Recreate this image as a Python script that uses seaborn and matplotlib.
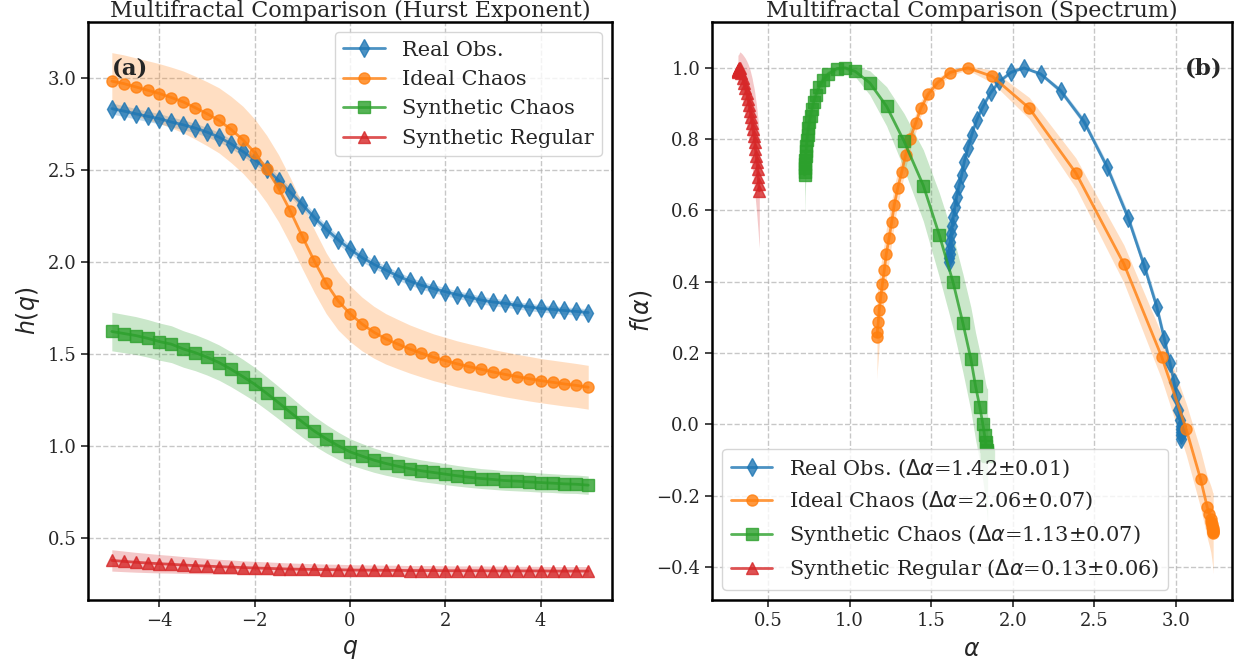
import numpy as np
import pandas as pd
import matplotlib
matplotlib.use("Agg")
import matplotlib.pyplot as plt
import seaborn as sns

# ---------------- data ----------------
q = [-5.0, -4.75, -4.5, -4.25, -4.0, -3.75, -3.5, -3.25, -3.0, -2.75, -2.5, -2.25, -2.0,
     -1.75, -1.5, -1.25, -1.0, -0.75, -0.5, -0.25, 0.0, 0.25, 0.5, 0.75, 1.0, 1.25, 1.5,
     1.75, 2.0, 2.25, 2.5, 2.75, 3.0, 3.25, 3.5, 3.75, 4.0, 4.25, 4.5, 4.75, 5.0]

labels = ["Real Obs.", "Ideal Chaos", "Synthetic Chaos", "Synthetic Regular"]
delta_alpha = ["1.42±0.01", "2.06±0.07", "1.13±0.07", "0.13±0.06"]

h_real = [2.833, 2.820, 2.805, 2.791, 2.778, 2.760, 2.745, 2.727, 2.705, 2.678, 2.642, 2.600,
          2.555, 2.505, 2.442, 2.378, 2.311, 2.242, 2.178, 2.120, 2.069, 2.024, 1.987, 1.956,
          1.924, 1.896, 1.873, 1.855, 1.838, 1.822, 1.809, 1.793, 1.782, 1.775, 1.764, 1.756,
          1.747, 1.742, 1.736, 1.731, 1.725]
h_ideal = [2.982, 2.969, 2.951, 2.933, 2.915, 2.893, 2.869, 2.838, 2.805, 2.769, 2.720, 2.664,
           2.593, 2.505, 2.400, 2.275, 2.138, 2.005, 1.884, 1.788, 1.719, 1.663, 1.618, 1.582,
           1.554, 1.527, 1.504, 1.482, 1.464, 1.446, 1.431, 1.417, 1.402, 1.389, 1.377, 1.366,
           1.355, 1.346, 1.337, 1.329, 1.319]
h_synchaos = [1.622, 1.611, 1.600, 1.585, 1.567, 1.553, 1.527, 1.507, 1.482, 1.453, 1.417, 1.377,
              1.335, 1.286, 1.235, 1.182, 1.130, 1.081, 1.039, 1.001, 0.968, 0.945, 0.923, 0.905,
              0.890, 0.877, 0.865, 0.856, 0.847, 0.838, 0.830, 0.823, 0.818, 0.812, 0.809, 0.805,
              0.801, 0.798, 0.794, 0.792, 0.787]
h_synreg = [0.378, 0.373, 0.368, 0.364, 0.360, 0.357, 0.353, 0.350, 0.347, 0.344, 0.342, 0.339,
            0.337, 0.335, 0.333, 0.331, 0.330, 0.329, 0.328, 0.327, 0.326, 0.325, 0.325, 0.324,
            0.324, 0.323, 0.323, 0.323, 0.322, 0.322, 0.322, 0.322, 0.321, 0.321, 0.321, 0.321,
            0.321, 0.320, 0.320, 0.320, 0.320]

h_real_sd = [0.030, 0.029, 0.029, 0.028, 0.028, 0.027, 0.027, 0.026, 0.026, 0.026, 0.025, 0.025,
             0.025, 0.025, 0.025, 0.025, 0.025, 0.025, 0.024, 0.024, 0.024, 0.024, 0.023, 0.023,
             0.023, 0.022, 0.022, 0.022, 0.022, 0.021, 0.021, 0.021, 0.021, 0.021, 0.020, 0.020,
             0.020, 0.020, 0.020, 0.020, 0.020]
h_ideal_sd = [0.155, 0.156, 0.158, 0.160, 0.162, 0.165, 0.168, 0.171, 0.174, 0.177, 0.180, 0.182,
              0.183, 0.183, 0.182, 0.180, 0.176, 0.171, 0.165, 0.158, 0.152, 0.146, 0.141, 0.137,
              0.134, 0.131, 0.129, 0.127, 0.126, 0.125, 0.124, 0.123, 0.122, 0.122, 0.121, 0.121,
              0.120, 0.120, 0.120, 0.119, 0.119]
h_synchaos_sd = [0.105, 0.104, 0.103, 0.102, 0.101, 0.100, 0.099, 0.098, 0.097, 0.096, 0.095, 0.094,
                 0.092, 0.090, 0.088, 0.086, 0.083, 0.080, 0.077, 0.074, 0.071, 0.068, 0.066, 0.064,
                 0.062, 0.060, 0.059, 0.058, 0.057, 0.056, 0.055, 0.054, 0.054, 0.053, 0.053, 0.052,
                 0.052, 0.051, 0.051, 0.050, 0.050]
h_synreg_sd = [0.058, 0.056, 0.054, 0.052, 0.050, 0.048, 0.046, 0.044, 0.042, 0.040, 0.039, 0.037,
               0.036, 0.035, 0.034, 0.033, 0.032, 0.031, 0.030, 0.030, 0.029, 0.029, 0.028, 0.028,
               0.028, 0.027, 0.027, 0.027, 0.027, 0.026, 0.026, 0.026, 0.026, 0.026, 0.025, 0.025,
               0.025, 0.025, 0.025, 0.025, 0.025]

a_real = [3.033, 3.033, 3.032, 3.032, 3.031, 3.030, 3.028, 3.025, 3.014, 3.000, 2.988, 2.963,
          2.929, 2.882, 2.806, 2.708, 2.579, 2.438, 2.295, 2.171, 2.069, 1.990, 1.918, 1.865,
          1.816, 1.779, 1.748, 1.724, 1.703, 1.687, 1.670, 1.656, 1.646, 1.636, 1.628, 1.622,
          1.618, 1.615, 1.613, 1.611, 1.610]
f_real = [-0.042, -0.038, -0.033, -0.028, -0.022, -0.014, -0.005, 0.013, 0.041, 0.078, 0.120, 0.171,
          0.239, 0.330, 0.444, 0.578, 0.721, 0.848, 0.935, 0.983, 1.000, 0.988, 0.962, 0.931,
          0.891, 0.854, 0.812, 0.775, 0.737, 0.700, 0.669, 0.639, 0.611, 0.583, 0.557, 0.533,
          0.511, 0.492, 0.477, 0.466, 0.456]
a_ideal = [3.228, 3.228, 3.227, 3.227, 3.226, 3.225, 3.224, 3.222, 3.220, 3.217, 3.213, 3.205,
           3.192, 3.151, 3.063, 2.912, 2.681, 2.387, 2.101, 1.875, 1.724, 1.615, 1.540, 1.482,
           1.437, 1.405, 1.370, 1.344, 1.320, 1.295, 1.274, 1.258, 1.242, 1.225, 1.213, 1.201,
           1.191, 1.182, 1.176, 1.170, 1.168]
f_ideal = [-0.306, -0.305, -0.303, -0.301, -0.299, -0.296, -0.292, -0.287, -0.281, -0.274, -0.265, -0.252,
           -0.233, -0.154, -0.014, 0.190, 0.450, 0.705, 0.887, 0.976, 1.000, 0.987, 0.959, 0.926,
           0.887, 0.845, 0.800, 0.756, 0.709, 0.662, 0.616, 0.567, 0.522, 0.478, 0.433, 0.393,
           0.357, 0.321, 0.288, 0.260, 0.246]
a_synchaos = [1.846, 1.845, 1.844, 1.842, 1.840, 1.837, 1.833, 1.827, 1.816, 1.798, 1.772, 1.743,
              1.695, 1.634, 1.550, 1.452, 1.334, 1.227, 1.124, 1.035, 0.973, 0.922, 0.870, 0.836,
              0.812, 0.795, 0.781, 0.770, 0.761, 0.754, 0.748, 0.743, 0.739, 0.736, 0.733, 0.731,
              0.729, 0.727, 0.726, 0.725, 0.724]
f_synchaos = [-0.089, -0.086, -0.082, -0.077, -0.071, -0.062, -0.050, -0.030, 0.002, 0.049, 0.107, 0.184,
              0.283, 0.399, 0.531, 0.670, 0.794, 0.892, 0.958, 0.990, 1.000, 0.998, 0.983, 0.965,
              0.945, 0.925, 0.905, 0.885, 0.866, 0.848, 0.830, 0.813, 0.797, 0.782, 0.768, 0.754,
              0.741, 0.729, 0.718, 0.708, 0.699]
a_synreg = [0.447, 0.443, 0.440, 0.436, 0.432, 0.428, 0.423, 0.419, 0.414, 0.408, 0.403, 0.397,
            0.391, 0.384, 0.377, 0.369, 0.361, 0.352, 0.344, 0.336, 0.327, 0.324, 0.322, 0.321,
            0.320, 0.319, 0.319, 0.318, 0.318, 0.318, 0.317, 0.317, 0.317, 0.317, 0.317, 0.316,
            0.316, 0.316, 0.316, 0.316, 0.316]
f_synreg = [0.655, 0.675, 0.695, 0.715, 0.735, 0.754, 0.773, 0.792, 0.810, 0.828, 0.846, 0.863,
            0.880, 0.897, 0.913, 0.929, 0.944, 0.959, 0.973, 0.987, 1.000, 0.999, 0.998, 0.997,
            0.996, 0.995, 0.994, 0.993, 0.993, 0.992, 0.992, 0.991, 0.991, 0.990, 0.990, 0.990,
            0.989, 0.989, 0.989, 0.988, 0.988]

f_real_sd = [0.022, 0.022, 0.021, 0.021, 0.020, 0.020, 0.019, 0.019, 0.018, 0.018, 0.018, 0.017,
             0.017, 0.016, 0.015, 0.014, 0.012, 0.010, 0.008, 0.005, 0.003, 0.004, 0.005, 0.006,
             0.007, 0.008, 0.009, 0.010, 0.011, 0.012, 0.013, 0.013, 0.014, 0.014, 0.015, 0.015,
             0.016, 0.016, 0.016, 0.017, 0.017]
f_ideal_sd = [0.115, 0.113, 0.111, 0.109, 0.107, 0.105, 0.103, 0.101, 0.099, 0.096, 0.093, 0.090,
              0.086, 0.080, 0.072, 0.063, 0.053, 0.042, 0.030, 0.018, 0.006, 0.008, 0.012, 0.016,
              0.021, 0.026, 0.031, 0.036, 0.041, 0.047, 0.053, 0.059, 0.065, 0.071, 0.077, 0.083,
              0.089, 0.095, 0.102, 0.110, 0.120]
f_synchaos_sd = [0.190, 0.186, 0.182, 0.178, 0.174, 0.170, 0.166, 0.162, 0.158, 0.154, 0.150, 0.145,
                 0.138, 0.130, 0.118, 0.100, 0.078, 0.055, 0.034, 0.015, 0.005, 0.006, 0.010, 0.014,
                 0.019, 0.024, 0.029, 0.034, 0.039, 0.044, 0.050, 0.055, 0.061, 0.066, 0.072, 0.077,
                 0.083, 0.089, 0.095, 0.102, 0.108]
f_synreg_sd = [0.160, 0.158, 0.156, 0.153, 0.150, 0.147, 0.143, 0.139, 0.135, 0.130, 0.125, 0.119,
               0.113, 0.106, 0.099, 0.091, 0.083, 0.074, 0.065, 0.055, 0.045, 0.042, 0.041, 0.041,
               0.041, 0.042, 0.042, 0.043, 0.043, 0.044, 0.044, 0.045, 0.045, 0.046, 0.046, 0.047,
               0.047, 0.048, 0.048, 0.049, 0.050]

colors = ["#1f77b4", "#ff7f0e", "#2ca02c", "#d62728"]
markers = ["d", "o", "s", "^"]
msizes = [9, 8, 8, 8]

# ---------------- style ----------------
sns.set_theme(style="ticks")
plt.rcParams["font.family"] = ["DejaVu Serif"]
plt.rcParams["mathtext.fontset"] = "dejavusans"

fig = plt.figure(figsize=(12.43, 6.66), dpi=100)
axL = fig.add_axes([0.0708, 0.0991, 0.4216, 0.868])
axR = fig.add_axes([0.5728, 0.0991, 0.4183, 0.868])

H = [h_real, h_ideal, h_synchaos, h_synreg]
HS = [h_real_sd, h_ideal_sd, h_synchaos_sd, h_synreg_sd]
A = [a_real, a_ideal, a_synchaos, a_synreg]
F = [f_real, f_ideal, f_synchaos, f_synreg]
FS = [f_real_sd, f_ideal_sd, f_synchaos_sd, f_synreg_sd]

for i in range(4):
    qa = np.array(q)
    h = np.array(H[i]); hs = np.array(HS[i])
    axL.fill_between(qa, h - hs, h + hs, color=colors[i], alpha=0.25, linewidth=0)
    df = pd.DataFrame({"q": qa, "h": h})
    sns.lineplot(data=df, x="q", y="h", ax=axL, color=colors[i], marker=markers[i],
                 markersize=msizes[i], markeredgecolor=colors[i], markeredgewidth=1,
                 linewidth=2, alpha=0.8, label=labels[i], sort=False)

for i in range(4):
    a = np.array(A[i]); f = np.array(F[i]); fs = np.array(FS[i])
    axR.fill_between(a, f - fs, f + fs, color=colors[i], alpha=0.25, linewidth=0)
    df = pd.DataFrame({"alpha": a, "f": f})
    sns.lineplot(data=df, x="alpha", y="f", ax=axR, color=colors[i], marker=markers[i],
                 markersize=msizes[i], markeredgecolor=colors[i], markeredgewidth=1,
                 linewidth=2, alpha=0.8, sort=False,
                 label=f"{labels[i]} ($\\Delta\\alpha$={delta_alpha[i]})")

for ax in (axL, axR):
    ax.grid(True, linestyle="--", color="#b0b0b0", alpha=0.7, linewidth=1)
    ax.tick_params(labelsize=13, direction="out", length=5, width=1.2)
    for s in ax.spines.values():
        s.set_linewidth(1.8)
        s.set_color("black")
        s.set_visible(True)

axL.set_xlim(-5.5, 5.5)
axL.set_ylim(0.163, 3.304)
axL.set_xticks([-4, -2, 0, 2, 4])
axL.set_yticks([0.5, 1.0, 1.5, 2.0, 2.5, 3.0])
axL.set_xlabel("$q$", fontsize=17, labelpad=6)
axL.set_ylabel("$h(q)$", fontsize=17)
axL.set_title("Multifractal Comparison (Hurst Exponent)", fontsize=16, pad=2)
axL.legend(loc="upper right", fontsize=15, framealpha=0.8)
axL.text(0.045, 0.92, "(a)", transform=axL.transAxes, fontsize=16.5, fontweight="bold",
         ha="left", va="center")

axR.set_xlim(0.157, 3.343)
axR.set_ylim(-0.493, 1.129)
axR.set_xticks([0.5, 1.0, 1.5, 2.0, 2.5, 3.0])
axR.set_yticks([-0.4, -0.2, 0.0, 0.2, 0.4, 0.6, 0.8, 1.0])
axR.set_xlabel("$\\alpha$", fontsize=17, labelpad=6)
axR.set_ylabel("$f(\\alpha)$", fontsize=17, labelpad=2)
axR.set_title("Multifractal Comparison (Spectrum)", fontsize=16, pad=2)
axR.legend(loc="lower left", fontsize=15, framealpha=0.8)
axR.text(0.981, 0.92, "(b)", transform=axR.transAxes, fontsize=16.5, fontweight="bold",
         ha="right", va="center")

fig.savefig("out.png", dpi=100)
